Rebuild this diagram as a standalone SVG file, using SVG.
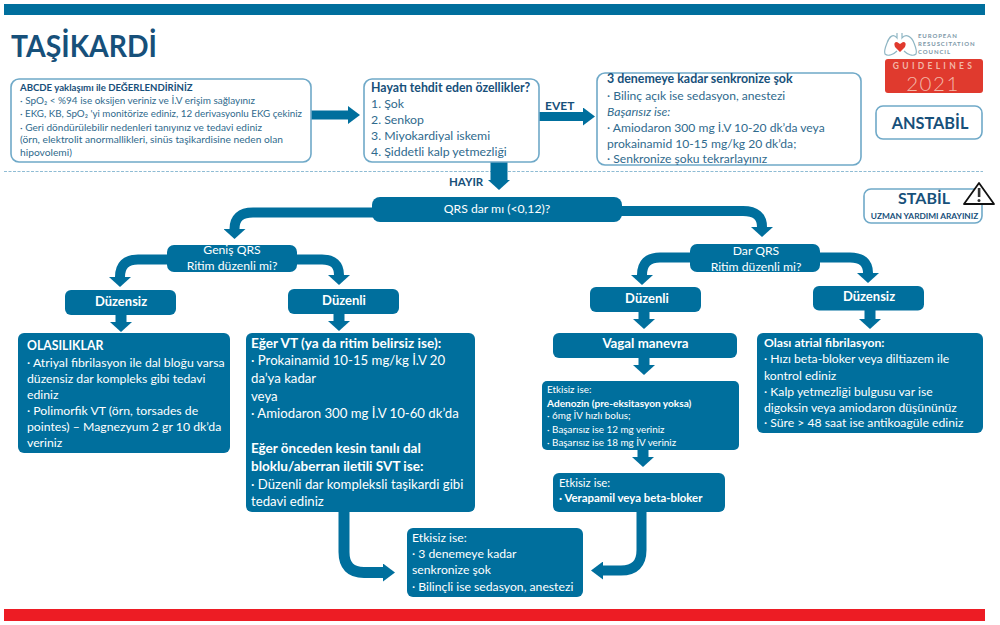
<svg xmlns="http://www.w3.org/2000/svg" width="1000" height="625" viewBox="0 0 1000 625">
<style>
text{font-family:"Lato","Open Sans","Liberation Sans",sans-serif}
.o{fill:#fff;stroke:#6fa9c8;stroke-width:1.6}
.f{fill:#006f9d}
.w{fill:#fff}
.d{fill:#2f6a8d}
.n{fill:#17507a;font-weight:700}
.b{font-weight:700}
.c{text-anchor:middle}
.s{fill:none;stroke:#006f9d}
</style>
<defs>
<marker id="headWide" markerUnits="userSpaceOnUse" viewBox="0 0 10 22" refX="0" refY="11" markerWidth="10" markerHeight="22" orient="auto"><path d="M0 0L10 11L0 22Z" fill="#006f9d"/></marker>
<marker id="headBig" markerUnits="userSpaceOnUse" viewBox="0 0 12 18" refX="0" refY="9" markerWidth="12" markerHeight="18" orient="auto"><path d="M0 0L12 9L0 18Z" fill="#006f9d"/></marker>
</defs>
<rect x="4" y="4" width="981" height="11" class="f"/>
<rect x="4" y="609" width="981" height="12" fill="#ed1c24"/>
<line x1="4" y1="171.500" x2="983" y2="171.500" stroke="#8fbcd4" stroke-width="1.200" stroke-dasharray="3 1.500"/>
<text x="11" y="57" font-size="31" class="n" textLength="146" lengthAdjust="spacingAndGlyphs">TAŞİKARDİ</text>
<g id="connectors">
<path d="M311 115H348" class="s" stroke-width="9" marker-end="url(#headBig)"/>
<path d="M539 116.500H583" class="s" stroke-width="9" marker-end="url(#headBig)"/>
<path d="M499 162V180" class="s" stroke-width="17" marker-end="url(#headWide)"/>
<path d="M373 212.500H253Q234.500 212.500 234.500 229" class="s" stroke-width="10" marker-end="url(#headWide)"/>
<path d="M621 211H743Q762 211 762 227" class="s" stroke-width="10" marker-end="url(#headWide)"/>
<path d="M168 259.500H138Q120 259.500 120 277" class="s" stroke-width="10" marker-end="url(#headWide)"/>
<path d="M296 259.500H322Q339 259.500 339 275" class="s" stroke-width="10" marker-end="url(#headWide)"/>
<path d="M691 257.500H660Q642 257.500 642 275" class="s" stroke-width="10" marker-end="url(#headWide)"/>
<path d="M819 257.500H850Q868 257.500 868 273" class="s" stroke-width="10" marker-end="url(#headWide)"/>
<path d="M121 315V322" class="s" stroke-width="11" marker-end="url(#headWide)"/>
<path d="M339 314V321" class="s" stroke-width="11" marker-end="url(#headWide)"/>
<path d="M644 312V319" class="s" stroke-width="11" marker-end="url(#headWide)"/>
<path d="M870 310V319" class="s" stroke-width="11" marker-end="url(#headWide)"/>
<path d="M644 358V365" class="s" stroke-width="11" marker-end="url(#headWide)"/>
<path d="M643 450V457" class="s" stroke-width="11" marker-end="url(#headWide)"/>
<path d="M344 512V552Q344 572.500 364 572.500H383" class="s" stroke-width="11" marker-end="url(#headBig)"/>
<path d="M641.500 512V550Q641.500 570.500 621 570.500H603" class="s" stroke-width="10" marker-end="url(#headBig)"/>
</g>
<g id="assess"><rect x="11" y="79" width="300" height="83" rx="8" class="o"/>
<text x="20" y="91" font-size="9.600" class="n">ABCDE yaklaşımı ile DEĞERLENDİRİNİZ</text>
<g font-size="10" class="d">
<text x="20" y="103.500" textLength="235" lengthAdjust="spacingAndGlyphs">· SpO₂ &lt; %94 ise oksijen veriniz ve İ.V erişim sağlayınız</text>
<text x="20" y="116.500" textLength="282" lengthAdjust="spacingAndGlyphs">· EKG, KB, SpO₂ 'yi monitörize ediniz, 12 derivasyonlu EKG çekiniz</text>
<text x="20" y="130.500" textLength="242" lengthAdjust="spacingAndGlyphs">· Geri döndürülebilir nedenleri tanıyınız ve tedavi ediniz</text>
<text x="20" y="143" textLength="263" lengthAdjust="spacingAndGlyphs">(örn, elektrolit anormallikleri, sinüs taşikardisine neden olan</text>
<text x="20" y="156" textLength="52" lengthAdjust="spacingAndGlyphs">hipovolemi)</text>
</g></g>
<g id="threat"><rect x="364" y="79" width="175" height="83" rx="8" class="o"/>
<text font-size="12.300" class="d"><tspan x="371" y="92" class="n">Hayatı tehdit eden özellikler?</tspan><tspan x="371" y="108">1. Şok</tspan><tspan x="371" y="124">2. Senkop</tspan><tspan x="371" y="140">3. Miyokardiyal iskemi</tspan><tspan x="371" y="156">4. Şiddetli kalp yetmezliği</tspan></text></g>
<text x="545" y="110" font-size="12" class="n">EVET</text>
<text x="449" y="186" font-size="11.500" class="n">HAYIR</text>
<g id="shock"><rect x="597" y="73" width="264" height="92" rx="8" class="o"/>
<text font-size="12.100" class="d"><tspan x="607" y="83" class="n" font-size="12.400">3 denemeye kadar senkronize şok</tspan><tspan x="607" y="100">· Bilinç açık ise sedasyon, anestezi</tspan><tspan x="607" y="116" font-style="italic">Başarısız ise:</tspan><tspan x="607" y="132">· Amiodaron 300 mg İ.V 10-20 dk’da veya</tspan><tspan x="607" y="148">prokainamid 10-15 mg/kg 20 dk’da;</tspan><tspan x="607" y="162.500">· Senkronize şoku tekrarlayınız</tspan></text></g>
<g id="logo">
<path d="M897 33V38C893 33 889 37 887 43C885 48 884 52 885 54C888 57 894 54 897 51M902 33V38C906 33 912 37 914 43C916 48 917 52 916 54C913 57 907 54 904 51" fill="none" stroke="#8fb6c4" stroke-width="1.200"/>
<path d="M900 52L895 47Q893 42 897 42L900 44L903 42Q907 42 905 47Z" fill="#e03a2e"/>
<text font-size="6" fill="#7d98a8" class="b" letter-spacing="0.900"><tspan x="918" y="37.500">EUROPEAN</tspan><tspan x="918" y="45.500">RESUSCITATION</tspan><tspan x="918" y="54">COUNCIL</tspan></text>
<rect x="885" y="59" width="98" height="34" rx="3" fill="#e03a2e"/>
<text x="934" y="68.500" font-size="8.500" fill="#f3b7a8" class="b c" letter-spacing="3.300">GUIDELINES</text>
<text x="933" y="90.500" font-size="20.500" fill="#f3b7a8" class="c" font-weight="300" letter-spacing="1.500">2021</text>
</g>
<g id="unstable"><rect x="876" y="106" width="106" height="33" rx="7" class="o"/><text x="930" y="129" font-size="16.300" class="n c">ANSTABİL</text></g>
<g id="stable"><rect x="864" y="189" width="118" height="34" rx="7" class="o"/><text x="924" y="204" font-size="16" class="n c">STABİL</text><text x="924.500" y="219" font-size="8.300" class="n c">UZMAN YARDIMI ARAYINIZ</text></g>
<g id="warning"><path d="M979 183L994 204H964Z" fill="#fff" stroke="#111" stroke-width="1.800" stroke-linejoin="round"/><rect x="977.800" y="188" width="2.600" height="9" fill="#333"/><circle cx="979" cy="200.500" r="1.500" fill="#333"/></g>
<g id="qrs"><rect x="372" y="197" width="250" height="25" rx="8" class="f"/><text x="497" y="213" font-size="12.200" class="w c">QRS dar mı (&lt;0,12)?</text></g>
<g id="wide"><rect x="167" y="245" width="130" height="27" rx="7" class="f"/><text font-size="12.200" class="w c"><tspan x="232" y="254">Geniş QRS</tspan><tspan x="232" y="270">Ritim düzenli mi?</tspan></text></g>
<g id="narrow"><rect x="690" y="244" width="130" height="28" rx="7" class="f"/><text font-size="12.200" class="w c"><tspan x="756" y="255">Dar QRS</tspan><tspan x="756" y="271">Ritim düzenli mi?</tspan></text></g>
<g id="wide-irregular"><rect x="65" y="290" width="111" height="25" rx="6" class="f"/><text x="121" y="306" font-size="13" class="w b c">Düzensiz</text></g>
<g id="wide-regular"><rect x="288" y="289" width="111" height="25" rx="6" class="f"/><text x="344" y="305" font-size="13" class="w b c">Düzenli</text></g>
<g id="narrow-regular"><rect x="590" y="287" width="111" height="25" rx="6" class="f"/><text x="647" y="303" font-size="13" class="w b c">Düzenli</text></g>
<g id="narrow-irregular"><rect x="813" y="286" width="111" height="24.500" rx="6" class="f"/><text x="869" y="301" font-size="13" class="w b c">Düzensiz</text></g>
<g id="possibilities"><rect x="18" y="333" width="212" height="120" rx="6" class="f"/>
<text font-size="12.250" class="w"><tspan x="27" y="350" class="b">OLASILIKLAR</tspan><tspan x="27" y="367">· Atriyal fibrilasyon ile dal bloğu varsa</tspan><tspan x="27" y="383">düzensiz dar kompleks gibi tedavi</tspan><tspan x="27" y="399">ediniz</tspan><tspan x="27" y="415">· Polimorfik VT (örn, torsades de</tspan><tspan x="27" y="431">pointes) – Magnezyum 2 gr 10 dk’da</tspan><tspan x="27" y="447">veriniz</tspan></text></g>
<g id="vt"><rect x="246" y="333" width="229" height="179" rx="6" class="f"/>
<text font-size="13.200" class="w"><tspan x="251" y="348" class="b" font-size="13.600">Eğer VT (ya da ritim belirsiz ise):</tspan><tspan x="251" y="365">· Prokainamid 10-15 mg/kg İ.V 20</tspan><tspan x="251" y="383">da’ya kadar</tspan><tspan x="251" y="401">veya</tspan><tspan x="251" y="418">· Amiodaron 300 mg İ.V 10-60 dk’da</tspan><tspan x="251" y="453" class="b" font-size="13.500">Eğer önceden kesin tanılı dal</tspan><tspan x="251" y="471" class="b" font-size="13.500">bloklu/aberran iletili SVT ise:</tspan><tspan x="251" y="489">· Düzenli dar kompleksli taşikardi gibi</tspan><tspan x="251" y="506">tedavi ediniz</tspan></text></g>
<g id="vagal"><rect x="553" y="333" width="184" height="25" rx="6" class="f"/><text x="645.500" y="348" font-size="13.300" class="w b c">Vagal manevra</text></g>
<g id="adenosine"><rect x="542" y="381" width="197" height="69" rx="5" class="f"/>
<text font-size="9.900" class="w"><tspan x="547" y="393">Etkisiz ise:</tspan><tspan x="547" y="406.500" class="b" font-size="10.100">Adenozin (pre-eksitasyon yoksa)</tspan><tspan x="547" y="419">· 6mg İV hızlı bolus;</tspan><tspan x="547" y="433">· Başarısız ise 12 mg veriniz</tspan><tspan x="547" y="446">· Başarısız ise 18 mg İV veriniz</tspan></text></g>
<g id="verapamil"><rect x="553" y="473" width="172" height="39" rx="6" class="f"/>
<text font-size="11.400" class="w"><tspan x="559" y="487">Etkisiz ise:</tspan><tspan x="559" y="502" class="b">· Verapamil veya beta-bloker</tspan></text></g>
<g id="sync"><rect x="407" y="528" width="176" height="69" rx="6" class="f"/>
<text font-size="12.200" class="w"><tspan x="412" y="542">Etkisiz ise:</tspan><tspan x="412" y="558">· 3 denemeye kadar</tspan><tspan x="412" y="574">senkronize şok</tspan><tspan x="412" y="591">· Bilinçli ise sedasyon, anestezi</tspan></text></g>
<g id="af"><rect x="757" y="333" width="226" height="100" rx="6" class="f"/>
<text font-size="12.200" class="w"><tspan x="764" y="347" class="b">Olası atrial fibrilasyon:</tspan><tspan x="764" y="363">· Hızı beta-bloker veya diltiazem ile</tspan><tspan x="764" y="380">kontrol ediniz</tspan><tspan x="764" y="396">· Kalp yetmezliği bulgusu var ise</tspan><tspan x="764" y="412">digoksin veya amiodaron düşününüz</tspan><tspan x="764" y="427">· Süre &gt; 48 saat ise antikoagüle ediniz</tspan></text></g>
</svg>
